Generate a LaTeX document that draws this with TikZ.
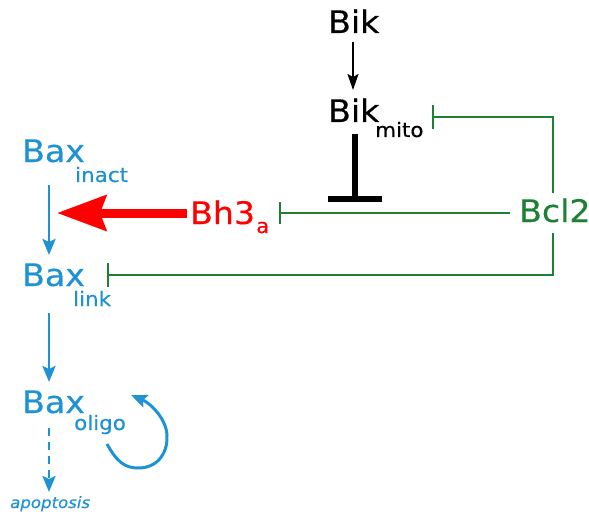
\documentclass[tikz,border=0pt]{standalone}
\usepackage{fontspec}
\setmainfont{DejaVu Sans}[FakeStretch=1.07, FakeBold=0.4]
\usetikzlibrary{arrows.meta}
\definecolor{baxblue}{RGB}{30,146,211}
\definecolor{bclgreen}{RGB}{30,128,50}
\definecolor{bhred}{RGB}{255,0,0}
\tikzset{
  mainlbl/.style={anchor=base west, inner sep=0pt, font=\fontsize{31}{31}\selectfont},
  sublbl/.style={anchor=base west, inner sep=0pt, font=\fontsize{20}{20}\selectfont},
  blueline/.style={draw=baxblue, line width=2.7pt, -{Stealth[length=16pt,width=13pt,inset=3pt]}},
  greeninh/.style={draw=bclgreen, line width=2.5pt},
  greenbar/.style={draw=bclgreen, line width=2.7pt},
}
\begin{document}
\begin{tikzpicture}[x=1pt,y=-1pt]
\useasboundingbox (0,0) rectangle (589,516);
% texts
\node[mainlbl] (bik) at (328,33) {Bik};
\node[mainlbl] (bikm) at (328,122) {Bik};
\node[sublbl] (bikmsub) at (375,137) {mito};
\node[mainlbl, text=baxblue] (baxi) at (22,162) {Bax};
\node[sublbl, text=baxblue] (baxisub) at (75,182) {inact};
\node[mainlbl, text=baxblue] (baxl) at (22,286) {Bax};
\node[sublbl, text=baxblue] (baxlsub) at (73,306) {link};
\node[mainlbl, text=baxblue] (baxo) at (22,413) {Bax};
\node[sublbl, text=baxblue] (baxosub) at (74,430) {oligo};
\node[mainlbl, text=bhred] (bh3) at (190,224) {Bh3};
\node[sublbl, text=bhred] (bh3sub) at (256,233) {a};
\node[mainlbl, text=bclgreen] (bcl) at (519,222) {Bcl2};
\node[anchor=base west, inner sep=0pt, text=baxblue, font=\fontsize{15.5}{15.5}\selectfont\itshape] (apo) at (10,508) {apoptosis};
% coordinates
\coordinate (bikA) at (353,42);
\coordinate (bikB) at (353,90);
\coordinate (tA) at (355,134);
\coordinate (tB) at (355,199);
\coordinate (tL) at (328,199);
\coordinate (tR) at (382,199);
\coordinate (bclL) at (510,213);
\coordinate (bh3R) at (280,213);
\coordinate (bclT) at (553,193);
\coordinate (cTR) at (553,117);
\coordinate (mitoR) at (433,117);
\coordinate (bclB) at (553,233);
\coordinate (cBR) at (553,275);
\coordinate (linkR) at (108,275);
\coordinate (redA) at (187,213);
\coordinate (redB) at (57,213);
\coordinate (b1A) at (49,185);
\coordinate (b1B) at (49,255);
\coordinate (b2A) at (49,313);
\coordinate (b2B) at (49,382);
\coordinate (b3A) at (49,428);
\coordinate (b3B) at (49,492);
\coordinate (lpA) at (107,444);
\coordinate (lpB) at (131,395);
% connectors
\draw[line width=2pt, -{Stealth[length=16pt,width=11pt,inset=3pt]}] (bikA) -- (bikB);
\draw[line width=6pt] (tA) -- (tB);
\draw[line width=6pt] (tL) -- (tR);
\draw[greeninh] (bclL) -- (bh3R);
\draw[greenbar] ([yshift=-11pt]bh3R) -- ([yshift=11pt]bh3R);
\draw[greeninh] (bclT) -- (cTR) -- (mitoR);
\draw[greenbar] ([yshift=-12pt]mitoR) -- ([yshift=12pt]mitoR);
\draw[greeninh] (bclB) -- (cBR) -- (linkR);
\draw[greenbar] ([yshift=-12pt]linkR) -- ([yshift=12pt]linkR);
\draw[draw=bhred, line width=9pt, -{Stealth[length=49pt,width=35pt,inset=6pt]}] (redA) -- (redB);
\draw[blueline] (b1A) -- (b1B);
\draw[blueline] (b2A) -- (b2B);
\draw[blueline, dash pattern=on 8pt off 6pt] (b3A) -- (b3B);
\draw[blueline, line width=3pt] (lpA) .. controls (117,462) and (125,468) .. (138,468) .. controls (160,468) and (168,450) .. (167,435) .. controls (166,418) and (150,403) .. (lpB);
\end{tikzpicture}
\end{document}
